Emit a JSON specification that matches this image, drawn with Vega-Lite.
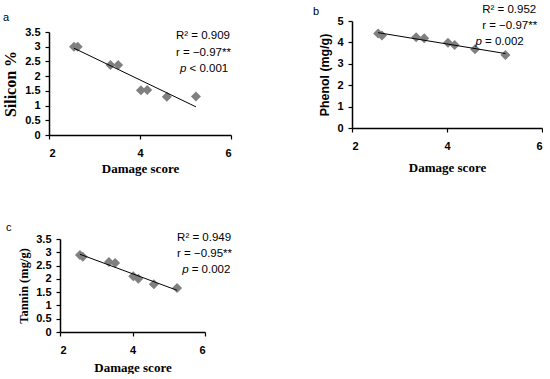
{
  "$schema": "https://vega.github.io/schema/vega-lite/v6.json",
  "background": "white",
  "padding": {"left": 2, "top": 4, "right": 0, "bottom": 0},
  "datasets": {
    "scores": [
      {"damage": 2.55, "silicon": 3.0, "phenol": 4.42, "tannin": 2.9},
      {"damage": 2.63, "silicon": 3.0, "phenol": 4.32, "tannin": 2.83},
      {"damage": 3.35, "silicon": 2.38, "phenol": 4.24, "tannin": 2.63},
      {"damage": 3.52, "silicon": 2.38, "phenol": 4.19, "tannin": 2.6},
      {"damage": 4.02, "silicon": 1.52, "phenol": 3.98, "tannin": 2.1},
      {"damage": 4.16, "silicon": 1.53, "phenol": 3.88, "tannin": 2.0},
      {"damage": 4.59, "silicon": 1.3, "phenol": 3.68, "tannin": 1.8},
      {"damage": 5.23, "silicon": 1.31, "phenol": 3.41, "tannin": 1.66}
    ]
  },
  "config": {
    "view": {"stroke": null},
    "axis": {
      "grid": false,
      "labelOverlap": false,
      "domainColor": "black",
      "domainWidth": 1.5,
      "tickColor": "black",
      "tickWidth": 1.2,
      "tickSize": 4,
      "labelColor": "black",
      "labelFont": "Liberation Sans",
      "labelFontWeight": "bold",
      "labelFontSize": 11,
      "titleColor": "black",
      "titleFontWeight": "bold"
    },
    "axisX": {"labelPadding": 8, "titlePadding": 4, "titleFont": "Liberation Serif", "titleFontSize": 13},
    "axisY": {"labelPadding": 5, "titlePadding": 5},
    "title": {"font": "Liberation Sans", "fontSize": 11, "fontWeight": "normal", "color": "black", "anchor": "start", "frame": "group", "offset": 0, "baseline": "middle"}
  },
  "spacing": 218,
  "bounds": "flush",
  "vconcat": [
    {
      "spacing": 121,
      "bounds": "flush",
      "hconcat": [
        {
          "width": 182,
          "height": 114,
          "title": {"text": "a", "dx": -46, "dy": 6},
          "data": {"name": "scores"},
          "encoding": {
            "x": {"field": "damage", "type": "quantitative", "scale": {"domain": [2, 6], "nice": false}, "axis": {"values": [2, 4, 6], "labelOverlap": false, "title": "Damage score"}},
            "y": {"field": "silicon", "type": "quantitative", "scale": {"domain": [0, 3.5], "nice": false, "range": [114, 11]}, "axis": {"values": [0, 0.5, 1, 1.5, 2, 2.5, 3, 3.5], "tickCount": 8, "labelOverlap": false, "format": "~g", "title": "Silicon %", "titleFont": "Liberation Serif", "titleFontSize": 16, "titlePadding": 6}}
          },
          "layer": [
            {
              "mark": {"type": "point", "shape": "diamond", "filled": true, "size": 100, "color": "#808080", "opacity": 1}
            },
            {
              "transform": [{"regression": "silicon", "on": "damage"}],
              "mark": {"type": "line", "color": "black", "strokeWidth": 1}
            },
            {
              "data": {"values": [
                {"damage": 4.79, "silicon": 3.35, "label": "R² = 0.909"},
                {"damage": 4.79, "silicon": 2.79, "label": "r = −0.97**"}
              ]},
              "mark": {"type": "text", "align": "left", "baseline": "middle", "font": "Liberation Sans", "fontSize": 11.5, "color": "black"},
              "encoding": {"text": {"field": "label"}}
            },
            {
              "data": {"values": [{"damage": 4.88, "silicon": 2.24, "label": "p"}]},
              "mark": {"type": "text", "align": "left", "baseline": "middle", "font": "Liberation Sans", "fontSize": 11.5, "fontStyle": "italic", "color": "black"},
              "encoding": {"text": {"field": "label"}}
            },
            {
              "data": {"values": [{"damage": 4.88, "silicon": 2.24, "label": "< 0.001"}]},
              "mark": {"type": "text", "align": "left", "baseline": "middle", "font": "Liberation Sans", "fontSize": 11.5, "dx": 9.5, "color": "black"},
              "encoding": {"text": {"field": "label"}}
            }
          ]
        },
        {
          "width": 190,
          "height": 107,
          "title": {"text": "b", "dx": -39, "dy": 17},
          "data": {"name": "scores"},
          "encoding": {
            "x": {"field": "damage", "type": "quantitative", "scale": {"domain": [2, 6], "nice": false}, "axis": {"values": [2, 4, 6], "labelOverlap": false, "title": "Damage score", "titlePadding": 10}},
            "y": {"field": "phenol", "type": "quantitative", "scale": {"domain": [0, 5], "nice": false}, "axis": {"values": [0, 1, 2, 3, 4, 5], "tickCount": 6, "labelOverlap": false, "title": "Phenol (mg/g)", "titleFont": "Liberation Sans", "titleFontSize": 12.4}}
          },
          "layer": [
            {
              "mark": {"type": "point", "shape": "diamond", "filled": true, "size": 100, "color": "#808080", "opacity": 1}
            },
            {
              "transform": [{"regression": "phenol", "on": "damage"}],
              "mark": {"type": "line", "color": "black", "strokeWidth": 1}
            },
            {
              "data": {"values": [
                {"damage": 4.74, "phenol": 5.51, "label": "R² = 0.952"},
                {"damage": 4.74, "phenol": 4.77, "label": "r = −0.97**"}
              ]},
              "mark": {"type": "text", "align": "left", "baseline": "middle", "font": "Liberation Sans", "fontSize": 11.5, "color": "black"},
              "encoding": {"text": {"field": "label"}}
            },
            {
              "data": {"values": [{"damage": 4.6, "phenol": 4.02, "label": "p"}]},
              "mark": {"type": "text", "align": "left", "baseline": "middle", "font": "Liberation Sans", "fontSize": 11.5, "fontStyle": "italic", "color": "black"},
              "encoding": {"text": {"field": "label"}}
            },
            {
              "data": {"values": [{"damage": 4.6, "phenol": 4.02, "label": "= 0.002"}]},
              "mark": {"type": "text", "align": "left", "baseline": "middle", "font": "Liberation Sans", "fontSize": 11.5, "dx": 9.5, "color": "black"},
              "encoding": {"text": {"field": "label"}}
            }
          ]
        }
      ]
    },
    {
      "width": 156,
      "height": 93,
      "title": {"text": "c", "dx": -43, "dy": 5},
      "data": {"name": "scores"},
      "encoding": {
        "x": {"field": "damage", "type": "quantitative", "scale": {"domain": [2, 6], "nice": false, "range": [11, 156]}, "axis": {"values": [2, 4, 6], "labelOverlap": false, "title": "Damage score", "titlePadding": 6}},
        "y": {"field": "tannin", "type": "quantitative", "scale": {"domain": [0, 3.5], "nice": false}, "axis": {"values": [0, 0.5, 1, 1.5, 2, 2.5, 3, 3.5], "tickCount": 8, "labelOverlap": false, "format": "~g", "offset": -11, "title": "Tannin (mg/g)", "titleFont": "Liberation Serif", "titleFontSize": 12.5}}
      },
      "layer": [
        {
          "mark": {"type": "point", "shape": "diamond", "filled": true, "size": 100, "color": "#808080", "opacity": 1}
        },
        {
          "transform": [{"regression": "tannin", "on": "damage"}],
          "mark": {"type": "line", "color": "black", "strokeWidth": 1}
        },
        {
          "data": {"values": [
            {"damage": 5.23, "tannin": 3.54, "label": "R² = 0.949"},
            {"damage": 5.23, "tannin": 2.94, "label": "r = −0.95**"}
          ]},
          "mark": {"type": "text", "align": "left", "baseline": "middle", "font": "Liberation Sans", "fontSize": 11.5, "color": "black"},
          "encoding": {"text": {"field": "label"}}
        },
        {
          "data": {"values": [{"damage": 5.37, "tannin": 2.33, "label": "p"}]},
          "mark": {"type": "text", "align": "left", "baseline": "middle", "font": "Liberation Sans", "fontSize": 11.5, "fontStyle": "italic", "color": "black"},
          "encoding": {"text": {"field": "label"}}
        },
        {
          "data": {"values": [{"damage": 5.37, "tannin": 2.33, "label": "= 0.002"}]},
          "mark": {"type": "text", "align": "left", "baseline": "middle", "font": "Liberation Sans", "fontSize": 11.5, "dx": 9.5, "color": "black"},
          "encoding": {"text": {"field": "label"}}
        }
      ]
    }
  ]
}
